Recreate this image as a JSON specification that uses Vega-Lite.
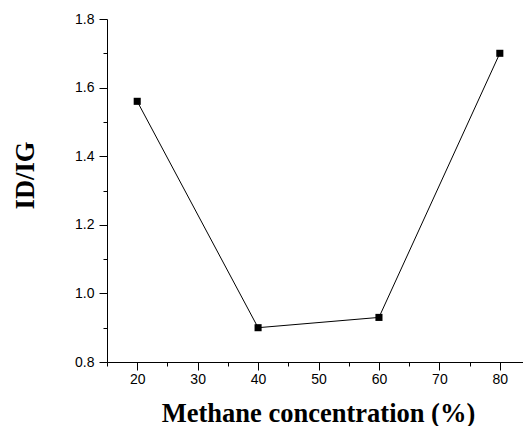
{
  "$schema": "https://vega.github.io/schema/vega-lite/v6.json",
  "width": 417,
  "height": 343,
  "autosize": "none",
  "padding": {"left": 107, "top": 19, "right": 0, "bottom": 64},
  "background": "white",
  "config": {
    "view": {"stroke": null},
    "axis": {
      "grid": false,
      "domainColor": "black",
      "domainWidth": 1,
      "tickColor": "black",
      "tickWidth": 1,
      "labelColor": "black",
      "titleColor": "black",
      "labelFont": "Liberation Sans",
      "labelFontSize": 14,
      "titleFont": "Liberation Serif",
      "titleFontSize": 26.5,
      "titleFontWeight": "bold"
    }
  },
  "data": {
    "values": [
      {"methane": 20, "ratio": 1.56},
      {"methane": 40, "ratio": 0.90},
      {"methane": 60, "ratio": 0.93},
      {"methane": 80, "ratio": 1.70}
    ]
  },
  "layer": [
    {
      "mark": {"type": "line", "color": "black", "strokeWidth": 1},
      "encoding": {
        "x": {
          "field": "methane",
          "type": "quantitative",
          "scale": {"domain": [15, 84], "nice": false, "zero": false},
          "axis": {
            "orient": "bottom",
            "values": [20, 30, 40, 50, 60, 70, 80],
            "tickSize": 8,
            "labelPadding": 2,
            "title": "Methane concentration (%)",
            "titleX": 211,
            "titleY": 59,
            "titleBaseline": "alphabetic",
            "titleAlign": "center"
          }
        },
        "y": {
          "field": "ratio",
          "type": "quantitative",
          "scale": {"domain": [0.8, 1.8], "nice": false, "zero": false},
          "axis": {
            "orient": "left",
            "values": [0.8, 1.0, 1.2, 1.4, 1.6, 1.8],
            "format": ".1f",
            "tickSize": 8,
            "labelPadding": 5,
            "title": "ID/IG",
            "titleX": -74,
            "titleY": 156,
            "titleAngle": -90,
            "titleBaseline": "alphabetic",
            "titleAlign": "center"
          }
        }
      }
    },
    {
      "mark": {"type": "square", "size": 50, "filled": true, "color": "black", "opacity": 1},
      "encoding": {
        "x": {
          "field": "methane",
          "type": "quantitative",
          "scale": {"domain": [15, 84], "nice": false, "zero": false},
          "axis": {
            "orient": "bottom",
            "values": [15, 25, 35, 45, 55, 65, 75],
            "tickSize": 4,
            "labels": false,
            "domain": false,
            "title": null
          }
        },
        "y": {
          "field": "ratio",
          "type": "quantitative",
          "scale": {"domain": [0.8, 1.8], "nice": false, "zero": false},
          "axis": {
            "orient": "left",
            "values": [0.9, 1.1, 1.3, 1.5, 1.7],
            "tickSize": 4,
            "labels": false,
            "domain": false,
            "title": null
          }
        }
      }
    }
  ],
  "resolve": {"axis": {"x": "independent", "y": "independent"}}
}
